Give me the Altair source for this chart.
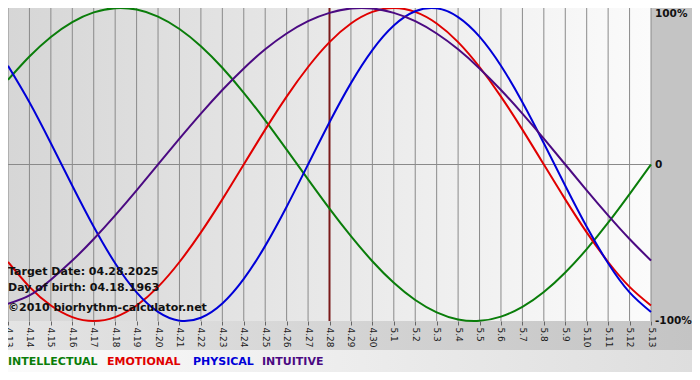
import altair as alt
import pandas as pd

# ---- data ----
day_labels = ["4.13", "4.14", "4.15", "4.16", "4.17", "4.18", "4.19", "4.20", "4.21", "4.22",
              "4.23", "4.24", "4.25", "4.26", "4.27", "4.28", "4.29", "4.30", "5.1", "5.2",
              "5.3", "5.4", "5.5", "5.6", "5.7", "5.8", "5.9", "5.10", "5.11", "5.12", "5.13"]
days = list(range(len(day_labels)))

intellectual = [0.541, 0.690, 0.815, 0.910, 0.972, 0.999, 0.990, 0.945, 0.866, 0.756,
                0.618, 0.458, 0.282, 0.095, -0.095, -0.282, -0.458, -0.618, -0.756, -0.866,
                -0.945, -0.990, -0.999, -0.972, -0.910, -0.815, -0.690, -0.541, -0.372, -0.189, 0.0]
emotional = [-0.623, -0.782, -0.901, -0.975, -1.0, -0.975, -0.901, -0.782, -0.623, -0.434,
             -0.223, 0.0, 0.223, 0.434, 0.623, 0.782, 0.901, 0.975, 1.0, 0.975,
             0.901, 0.782, 0.623, 0.434, 0.223, 0.0, -0.223, -0.434, -0.623, -0.782, -0.901]
physical = [0.631, 0.398, 0.136, -0.136, -0.398, -0.631, -0.817, -0.942, -0.998, -0.979,
            -0.888, -0.731, -0.520, -0.270, 0.0, 0.270, 0.520, 0.731, 0.888, 0.979,
            0.998, 0.942, 0.817, 0.631, 0.398, 0.136, -0.136, -0.398, -0.631, -0.817, -0.942]
intuitive = [-0.890, -0.837, -0.736, -0.614, -0.476, -0.325, -0.165, 0.0, 0.165, 0.325,
             0.476, 0.614, 0.736, 0.837, 0.916, 0.969, 0.997, 0.997, 0.969, 0.916,
             0.837, 0.736, 0.614, 0.476, 0.325, 0.165, 0.0, -0.165, -0.325, -0.476, -0.614]

series_names = ["INTELLECTUAL", "EMOTIONAL", "PHYSICAL", "INTUITIVE"]
series_colors = ["#0a7d0a", "#e00000", "#0000d8", "#4b0a82"]
target_index = 15
info_lines = ["Target Date: 04.28.2025", "Day of birth: 04.18.1963", "\u00a92010 biorhythm-calculator.net"]
y_label_values = [1, 0, -1]
y_label_texts = ["100%", "0", "-100%"]

# ---- build tables ----
rows = []
for name, vals in zip(series_names, [intellectual, emotional, physical, intuitive]):
    for t, v in zip(days, vals):
        rows.append({"t": t, "value": v, "series": name})
df = pd.DataFrame(rows)
grid_df = pd.DataFrame({"t": days})

W, H = 643, 313
FONT = "DejaVu Sans"

x_scale = alt.Scale(domain=[0, 30], nice=False, zero=False)
y_scale = alt.Scale(domain=[-1, 1], nice=False)

label_js = "[" + ",".join("'" + s + "'" for s in day_labels) + "][datum.value]"

def grad(c1, c2):
    return alt.LinearGradient(gradient="linear", x1=0, x2=1, y1=0, y2=0,
                              stops=[alt.GradientStop(color=c1, offset=0),
                                     alt.GradientStop(color=c2, offset=1)])

one = alt.Data(values=[{"a": 1}])

plot_bg = alt.Chart(one).mark_rect(fill=grad("#d6d6d6", "#fbfbfb")).encode(
    x=alt.value(0), x2=alt.value(W), y=alt.value(0), y2=alt.value(H))
label_band = alt.Chart(one).mark_rect(fill=grad("#e4e4e4", "#c4c4c4")).encode(
    x=alt.value(0), x2=alt.value(W + 41), y=alt.value(H), y2=alt.value(H + 29))
legend_band = alt.Chart(one).mark_rect(fill=grad("#fbfbfb", "#dedede")).encode(
    x=alt.value(0), x2=alt.value(W + 41), y=alt.value(H + 29), y2=alt.value(H + 51))

grid = alt.Chart(grid_df).mark_rule(color="#8a8a8a", strokeWidth=1).encode(
    x=alt.X("t:Q", scale=x_scale, axis=None), y=alt.value(0), y2=alt.value(H))

zero = alt.Chart(alt.Data(values=[{"v": 0}])).mark_rule(color="#8a8a8a", strokeWidth=1).encode(
    y=alt.Y("v:Q", scale=y_scale, axis=None), x=alt.value(0), x2=alt.value(W))

target = alt.Chart(alt.Data(values=[{"t": target_index}])).mark_rule(color="#7a1a1a", strokeWidth=2).encode(
    x=alt.X("t:Q", scale=x_scale, axis=None), y=alt.value(0), y2=alt.value(H))

lines = alt.Chart(df).mark_line(strokeWidth=2, interpolate="natural").encode(
    x=alt.X("t:Q", scale=x_scale,
            axis=alt.Axis(values=days, labelExpr=label_js, labelAngle=90, labelAlign="left",
                          labelBaseline="middle", labelFont=FONT, labelFontSize=9,
                          labelColor="#1a1a1a", labelPadding=2, tickSize=4, tickColor="#666666",
                          domain=False, grid=False, title=None, zindex=1, labelOverlap=False,
                          labelBound=False, labelFlush=False)),
    y=alt.Y("value:Q", scale=y_scale, axis=None),
    color=alt.Color("series:N", scale=alt.Scale(domain=series_names, range=series_colors), legend=None),
    order=alt.Order("t:Q"),
)

ylab_df = pd.DataFrame({"v": y_label_values, "txt": y_label_texts})
ylab_top = alt.Chart(ylab_df).transform_filter("datum.v == 1").mark_text(
    align="left", baseline="top", font=FONT, fontSize=10.5, fontWeight="bold", color="#111111", dy=1
).encode(x=alt.value(W + 4), y=alt.Y("v:Q", scale=y_scale, axis=None), text="txt:N")
ylab_rest = alt.Chart(ylab_df).transform_filter("datum.v != 1").mark_text(
    align="left", baseline="middle", font=FONT, fontSize=10.5, fontWeight="bold", color="#111111"
).encode(x=alt.value(W + 4), y=alt.Y("v:Q", scale=y_scale, axis=None), text="txt:N")

info_df = pd.DataFrame({"txt": info_lines, "yy": [264, 280, 299.5]})
info = alt.Chart(info_df).mark_text(align="left", baseline="middle", font=FONT, fontSize=11,
                                    fontWeight="bold", color="#111111").encode(
    x=alt.value(0), y=alt.Y("yy:Q", scale=alt.Scale(domain=[0, H], range=[0, H]), axis=None),
    text="txt:N")

legend_df = pd.DataFrame({"name": series_names, "xx": [0, 99, 185, 254]})
legend = alt.Chart(legend_df).mark_text(align="left", baseline="middle", font=FONT, fontSize=11,
                                        fontWeight="bold").encode(
    x=alt.X("xx:Q", scale=alt.Scale(domain=[0, W], range=[0, W]), axis=None),
    y=alt.value(354),
    text="name:N",
    color=alt.Color("name:N", scale=alt.Scale(domain=series_names, range=series_colors), legend=None),
)

chart = alt.layer(plot_bg, label_band, legend_band, grid, zero, target, lines,
                  ylab_top, ylab_rest, info, legend).resolve_scale(
    y="independent", x="independent", color="independent"
).properties(
    width=W, height=H,
    autosize=alt.AutoSizeParams(type="none"),
    padding={"left": 0, "top": 0, "right": 41, "bottom": 51},
    background="#c4c4c4",
).configure_view(stroke=None)

chart.save("out.html", embed_options={"renderer": "svg", "actions": False})
